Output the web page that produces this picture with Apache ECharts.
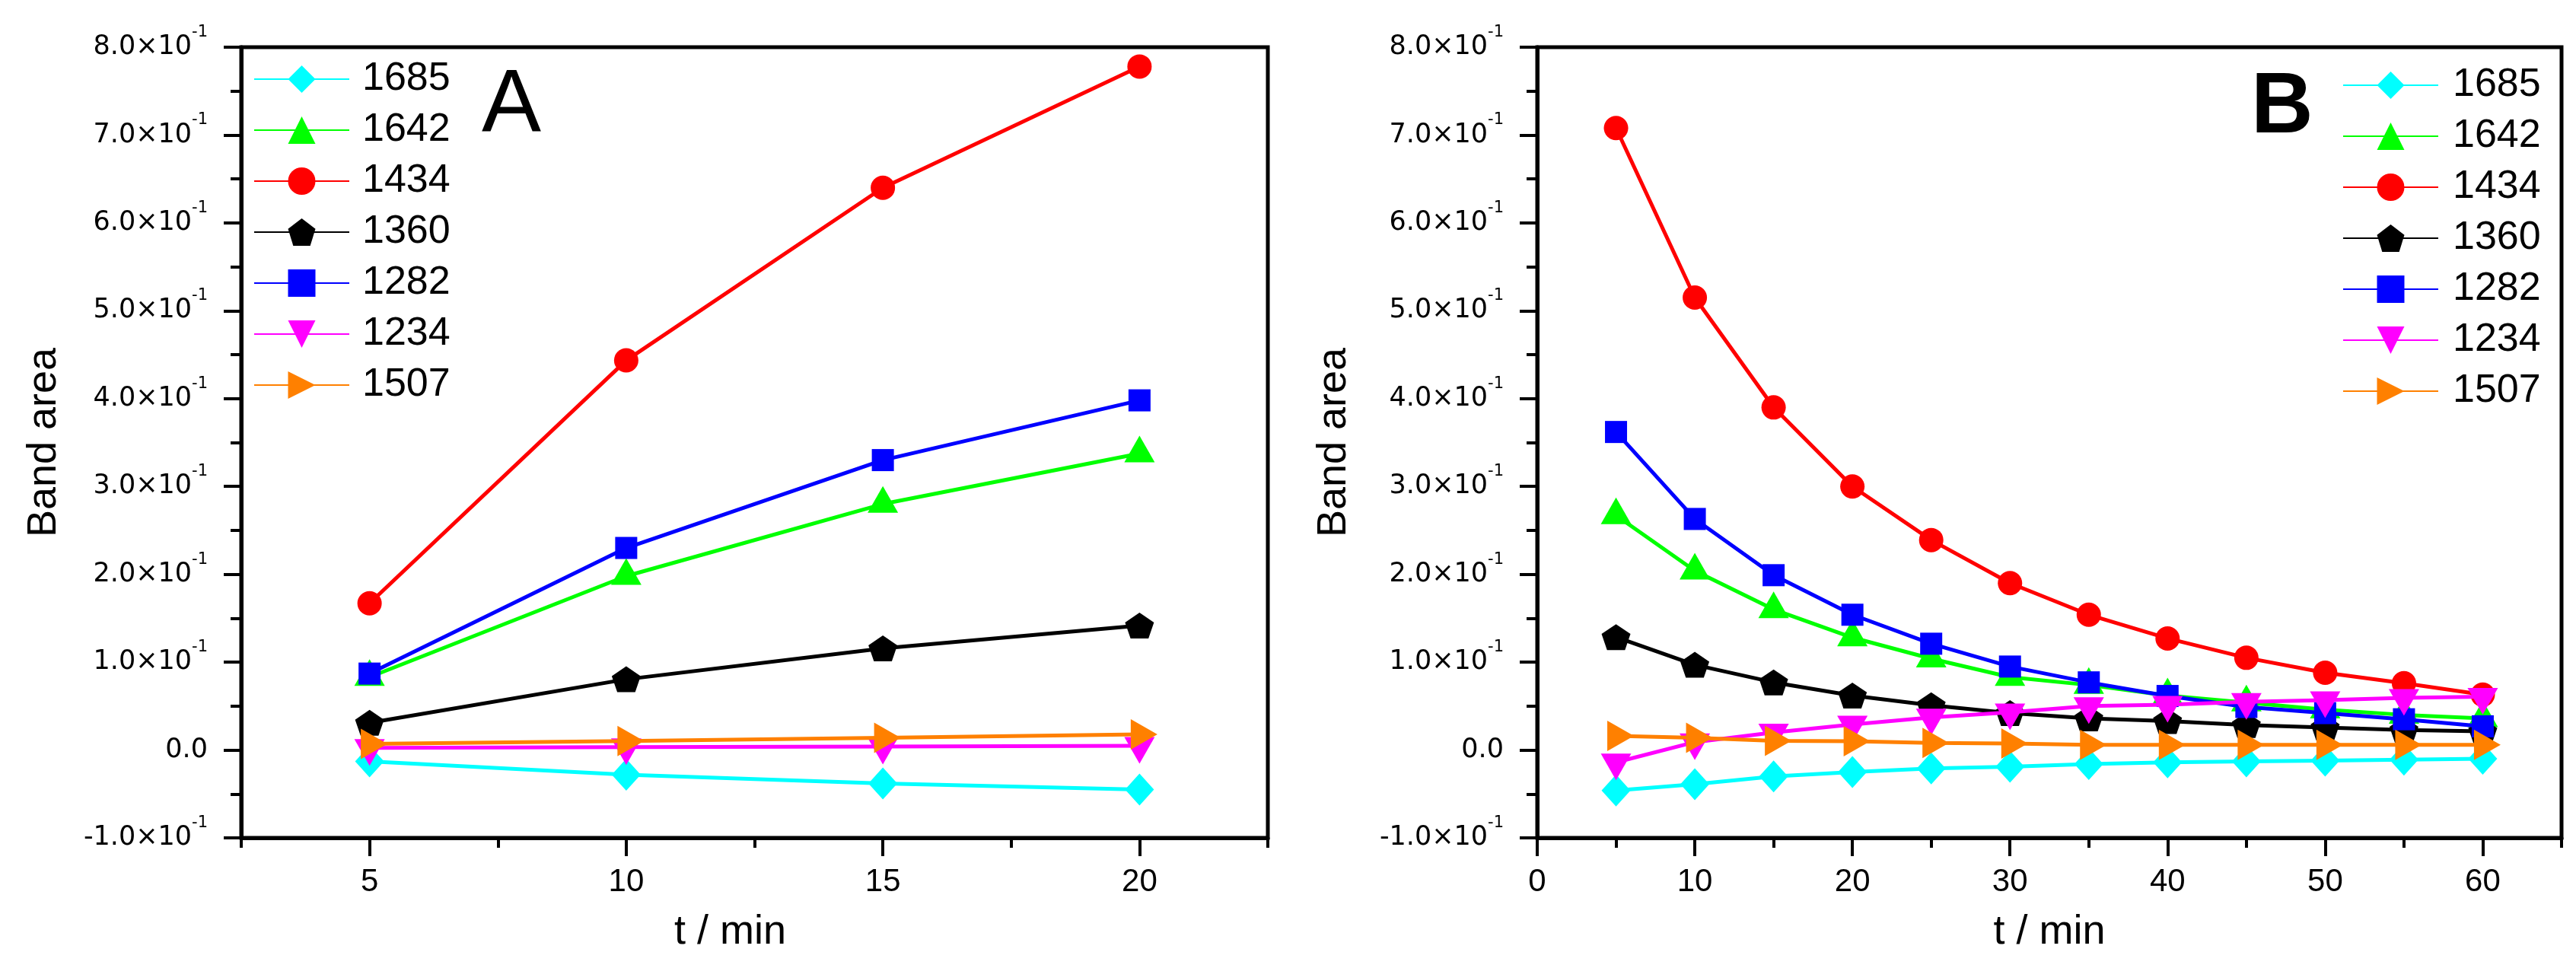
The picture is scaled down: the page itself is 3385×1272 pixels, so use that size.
<!DOCTYPE html>
<html><head><meta charset="utf-8">
<script src="https://cdn.jsdelivr.net/npm/echarts@6/dist/echarts.min.js"></script>
<style>html,body{margin:0;padding:0;background:#fff}#c{width:3385px;height:1272px}</style>
</head><body><div id="c"></div>
<script>
const names = ['1685','1642','1434','1360','1282','1234','1507'];
const colors = ['#00FFFF','#00FF00','#FF0000','#000000','#0000FF','#FF00FF','#FF8000'];
const tA = [5,10,15,20];
const tB = [5,10,15,20,25,30,35,40,45,50,55,60];
// Panel A values
const a1685 = [-0.013,-0.028,-0.038,-0.045];
const a1642 = [0.083,0.198,0.280,0.3375];
const a1434 = [0.167,0.4435,0.640,0.778];
const a1360 = [0.031,0.0805,0.1156,0.1416];
const a1282 = [0.087,0.230,0.330,0.398];
const a1234 = [0.0025,0.0034,0.004,0.0049];
const a1507 = [0.0069,0.0103,0.014,0.0178];
// Panel B values
const b1685 = [-0.046,-0.039,-0.030,-0.025,-0.021,-0.019,-0.016,-0.014,-0.013,-0.012,-0.011,-0.010];
const b1642 = [0.267,0.204,0.160,0.128,0.104,0.083,0.074,0.062,0.054,0.046,0.040,0.036];
const b1434 = [0.708,0.515,0.390,0.300,0.239,0.190,0.154,0.127,0.105,0.088,0.076,0.063];
const b1360 = [0.1285,0.097,0.077,0.062,0.051,0.042,0.036,0.033,0.0285,0.0257,0.0228,0.0213];
const b1282 = [0.362,0.263,0.199,0.154,0.121,0.095,0.077,0.0615,0.049,0.042,0.035,0.027];
const b1234 = [-0.014,0.009,0.020,0.029,0.037,0.043,0.050,0.0516,0.0548,0.0568,0.0594,0.0606];
const b1507 = [0.016,0.014,0.0105,0.010,0.008,0.0075,0.006,0.006,0.006,0.006,0.006,0.006];
// Axis ticks
const xMajorA = [5,10,15,20];
const xMinorA = [2.5,7.5,12.5,17.5,22.5];
const xMajorB = [0,10,20,30,40,50,60];
const xMinorB = [5,15,25,35,45,55,65];
const yMin = -0.1, yMax = 0.8, yStep = 0.1;

const seriesA = [a1685,a1642,a1434,a1360,a1282,a1234,a1507];
const seriesB = [b1685,b1642,b1434,b1360,b1282,b1234,b1507];

const FONT = 'Liberation Sans, Arial, sans-serif';
const TICKFONT = 'DejaVu Sans, Liberation Sans, Arial, sans-serif';
const symbols = ['diamond','triangle','circle','path://M50,0L100,36L81,95L19,95L0,36Z','rect','path://M0,0L100,0L50,100Z','path://M0,0L100,50L0,100Z'];
const sizes = [[38,42],[40,35],32,[38,34],29,[40,35],[35,40]];
const offsets = [[0,0],[0,-6],[0,0],[0,0],[0,0],[0,6],[6,0]];

function yLabel(v){
  const n = Math.round(v*10);
  if (n === 0) return '{m|0.0}';
  return '{m|' + n + '.0×10}{s|-1}';
}
function yAxis(gi, gap){
  return {
    type:'value', gridIndex:gi, min:yMin, max:yMax, interval:yStep,
    name:'Band area', nameLocation:'middle', nameGap:gap,
    nameTextStyle:{fontSize:54, fontFamily:FONT, color:'#000'},
    axisLine:{show:true, lineStyle:{color:'#000', width:5}},
    axisTick:{show:true, inside:false, length:23, lineStyle:{color:'#000', width:4}},
    minorTick:{show:true, splitNumber:2, length:14, lineStyle:{color:'#000', width:4}},
    splitLine:{show:false}, minorSplitLine:{show:false},
    axisLabel:{margin:44, formatter:yLabel, color:'#000', fontFamily:TICKFONT,
      rich:{ m:{fontSize:35, lineHeight:60, fontFamily:TICKFONT, color:'#000'},
             s:{fontSize:21, lineHeight:20, verticalAlign:'top', fontFamily:TICKFONT, color:'#000'} } }
  };
}
function xMain(gi, min, max, major, namePad){
  return {
    type:'value', gridIndex:gi, min:min, max:max, position:'bottom',
    name:'t / min', nameLocation:'middle', nameGap:97,
    nameTextStyle:{fontSize:54, fontFamily:FONT, color:'#000', padding:namePad},
    axisLine:{show:true, onZero:false, lineStyle:{color:'#000', width:5}},
    axisTick:{show:true, inside:false, length:24, customValues:major, lineStyle:{color:'#000', width:4}},
    axisLabel:{show:true, customValues:major, margin:37, fontSize:42, fontFamily:FONT, color:'#000'},
    splitLine:{show:false}
  };
}
function xMinor(gi, min, max, minor){
  return {
    type:'value', gridIndex:gi, min:min, max:max, position:'bottom',
    axisLine:{show:false, onZero:false},
    axisTick:{show:true, inside:false, length:13, customValues:minor, lineStyle:{color:'#000', width:4}},
    axisLabel:{show:false}, splitLine:{show:false}
  };
}
function mkSeries(t, vals, xi, yi){
  return vals.map((arr, i) => ({
    type:'line', name:names[i], xAxisIndex:xi, yAxisIndex:yi,
    data: t.map((x, k) => [x, arr[k]]),
    symbol:symbols[i], symbolSize:sizes[i], symbolOffset:offsets[i], symbolKeepAspect:false,
    showSymbol:true, clip:false,
    lineStyle:{color:colors[i], width:5},
    itemStyle:{color:colors[i]},
    emphasis:{disabled:true}, z: 2 + i
  }));
}
function legend(left, top, pad){
  return {
    orient:'vertical', left:left, top:top, padding:0,
    itemWidth:125, itemHeight:45, itemGap:15, selectedMode:false,
    data:names,
    textStyle:{fontSize:52, fontFamily:FONT, color:'#000', padding:[0,0,0,pad]}
  };
}
const chart = echarts.init(document.getElementById('c'), null, {renderer:'canvas'});
chart.setOption({
  animation:false,
  backgroundColor:'#fff',
  grid:[
    {left:317, right:1719, top:62, bottom:171, show:true, borderColor:'#000', borderWidth:5, backgroundColor:'transparent'},
    {left:2020, right:19, top:62, bottom:171, show:true, borderColor:'#000', borderWidth:5, backgroundColor:'transparent'}
  ],
  xAxis:[
    xMain(0, 2.5, 22.5, xMajorA, [0,64,0,0]),
    xMinor(0, 2.5, 22.5, xMinorA),
    xMain(1, 0, 65, xMajorB, [0,0,0,0]),
    xMinor(1, 0, 65, xMinorB)
  ],
  yAxis:[ yAxis(0, 232), yAxis(1, 240) ],
  legend:[ legend(333, 78, 12), legend(3078, 86, 14) ],
  graphic:[
    {type:'text', left:633, top:82, style:{text:'A', fontSize:117, fontFamily:FONT, fill:'#000'}},
    {type:'text', left:2958, top:86, style:{text:'B', fontSize:113, fontWeight:'bold', fontFamily:FONT, fill:'#000'}}
  ],
  series: mkSeries(tA, seriesA, 0, 0).concat(mkSeries(tB, seriesB, 2, 1))
});
</script></body></html>
